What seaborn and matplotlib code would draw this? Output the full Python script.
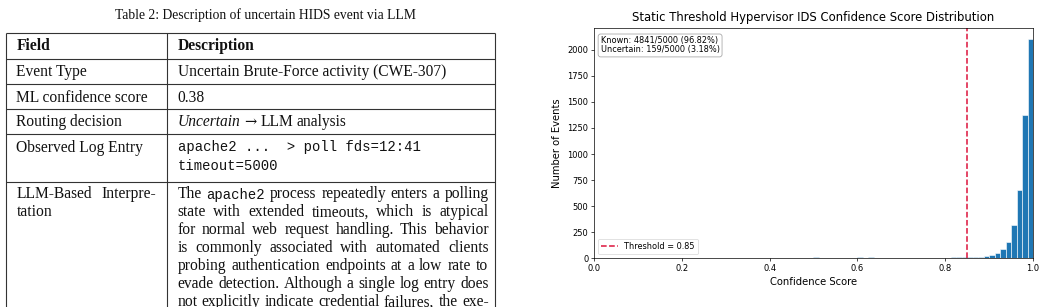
import numpy as np
import matplotlib
matplotlib.use("Agg")
import matplotlib.pyplot as plt
import seaborn as sns

# ---- table content (left half) ----
caption = "Table 2: Description of uncertain HIDS event via LLM"
header = ["Field", "Description"]
fields = ["Event Type", "ML confidence score", "Routing decision", "Observed Log Entry"]
event_type = "Uncertain Brute-Force activity (CWE-307)"
ml_score = "0.38"
log_lines = ["apache2 ...  > poll fds=12:41", "timeout=5000"]
interp_field = ["LLM-Based Interpre-", "tation"]
interp_lines = [
    "The `apache2 process repeatedly enters a polling",
    "state with extended timeouts, which is atypical",
    "for normal web request handling. This behavior",
    "is commonly associated with automated clients",
    "probing authentication endpoints at a low rate to",
    "evade detection. Although a single log entry does",
    "not explicitly indicate credential failures, the exe-",
]

# ---- histogram data (right half): bin centres (width 0.0125) and counts ----
bin_centers = [
    0.50625, 0.51875, 0.53125, 0.54375, 0.55625, 0.56875, 0.58125, 0.59375,
    0.60625, 0.61875, 0.63125, 0.64375, 0.65625, 0.66875, 0.68125, 0.69375,
    0.70625, 0.71875, 0.73125, 0.74375, 0.75625, 0.76875, 0.78125, 0.79375,
    0.80625, 0.81875, 0.83125, 0.84375,
    0.85625, 0.86875, 0.88125, 0.89375, 0.90625, 0.91875, 0.93125, 0.94375,
    0.95625, 0.96875, 0.98125, 0.99375,
]
counts = [
    10, 4, 3, 5, 6, 6, 5, 6,
    9, 5, 10, 5, 6, 3, 2, 2,
    2, 3, 3, 4, 4, 5, 6, 7,
    7, 10, 10, 11,
    8, 10, 14, 22, 30, 52, 91, 152,
    322, 656, 1378, 2106,
]
threshold = 0.85

fig = plt.figure(figsize=(10.46, 3.07), dpi=100)

# full-figure axes in pixel units for the table
tab = fig.add_axes([0, 0, 1, 1])
tab.set_xlim(0, 1046)
tab.set_ylim(307, 0)
tab.axis("off")

SERIF = dict(family=["Liberation Serif", "DejaVu Serif"], size=11.2, color="#111111")
BOLD = {**SERIF, "weight": "bold"}
ITAL = {**SERIF, "style": "italic"}
ARROW = dict(family=["DejaVu Serif"], size=10.5, color="#111111")
MONO = dict(family=["Liberation Mono", "DejaVu Sans Mono"], size=10, color="#111111")

r = fig.canvas.get_renderer()


def text_w(s, **kw):
    t = tab.text(0, 0, s, **kw)
    w = t.get_window_extent(renderer=r).width
    t.remove()
    return w


def put_line(y, words, x0, x1=None):
    widths = [text_w(w, **st) for w, st in words]
    if x1 is None or len(words) < 2:
        gap = text_w("a a", **SERIF) - text_w("aa", **SERIF)
    else:
        gap = (x1 - x0 - sum(widths)) / (len(words) - 1)
    x = x0
    for (w, st), wd in zip(words, widths):
        tab.text(x, y, w, ha="left", va="baseline", **st)
        x += wd + gap


def parse(line):
    out = []
    for w in line.split(" "):
        out.append((w[1:], MONO) if w.startswith("`") else (w, SERIF))
    return out


# caption
tab.text(265, 18.5, caption, ha="center", va="baseline",
         family=["Liberation Serif", "DejaVu Serif"], size=9.8, color="#111111")

# rules
xl, xm, xr = 6, 167, 495
rows = [33, 58.5, 84, 109, 134, 181.5]
for y in rows:
    tab.plot([xl, xr], [y, y], color="#333333", lw=0.8, solid_capstyle="butt")
for x in (xl, xm, xr):
    tab.plot([x, x], [33, 310], color="#333333", lw=0.8, solid_capstyle="butt")

c1, c2 = 16.5, 177.5
tab.text(c1, 50.5, header[0], ha="left", va="baseline", **BOLD)
tab.text(c2, 50.5, header[1], ha="left", va="baseline", **BOLD)
for y, f in zip([76, 101.5, 126.5, 151.5], fields):
    tab.text(c1, y, f, ha="left", va="baseline", **SERIF)
tab.text(c2, 76, event_type, ha="left", va="baseline", **SERIF)
tab.text(c2, 101.5, ml_score, ha="left", va="baseline", **SERIF)
put_line(126.5, [("Uncertain", ITAL), ("\u2192", ARROW), ("LLM", SERIF), ("analysis", SERIF)], c2)
tab.text(c2, 151.5, log_lines[0], ha="left", va="baseline", **MONO)
tab.text(c2, 170, log_lines[1], ha="left", va="baseline", **MONO)

put_line(198.5, parse(interp_field[0]), c1, 156.5)
put_line(216.5, parse(interp_field[1]), c1)
for i, line in enumerate(interp_lines):
    put_line(198.5 + 18 * i, parse(line), c2, 488.5)

# ---- histogram ----
plt.rcParams.update({
    "axes.linewidth": 0.5,
    "xtick.major.width": 0.5, "ytick.major.width": 0.5,
    "xtick.major.size": 2, "ytick.major.size": 2,
    "xtick.major.pad": 2, "ytick.major.pad": 2,
})

ax = fig.add_axes([594 / 1046, 1 - 258.3 / 307, 439 / 1046, 230.6 / 307])
sns.histplot(x=bin_centers, weights=counts, bins=80, binrange=(0, 1),
             color="#1f77b4", alpha=1, edgecolor="white", linewidth=0.4, ax=ax)
ax.axvline(threshold, color="crimson", linestyle="--", linewidth=1.1,
           label=f"Threshold = {threshold}")
ax.set_xlim(0, 1)
ax.set_yticks(np.arange(0, 2001, 250))
ax.set_xticks([0.0, 0.2, 0.4, 0.6, 0.8, 1.0])
ax.tick_params(labelsize=6)
ax.set_title("Static Threshold Hypervisor IDS Confidence Score Distribution",
             fontsize=8.4, pad=4.5)
ax.set_xlabel("Confidence Score", fontsize=7.2, labelpad=3)
ax.set_ylabel("Number of Events", fontsize=7.2, labelpad=3.5)

total = sum(counts)
known = sum(c for b, c in zip(bin_centers, counts) if b >= threshold)
unc = total - known
ax.text(0.015, 0.962,
        f"Known: {known}/{total} ({known / total * 100:.2f}%)\n"
        f"Uncertain: {unc}/{total} ({unc / total * 100:.2f}%)",
        transform=ax.transAxes, va="top", ha="left", fontsize=5.9, linespacing=1.0,
        bbox=dict(boxstyle="round,pad=0.3", facecolor="white", edgecolor="gray", alpha=0.8,
                  linewidth=0.5))
ax.legend(loc="lower left", fontsize=5.9, frameon=True, borderpad=0.4,
          handlelength=2, framealpha=0.8).get_frame().set_linewidth(0.5)

fig.savefig("out.png", dpi=100)
